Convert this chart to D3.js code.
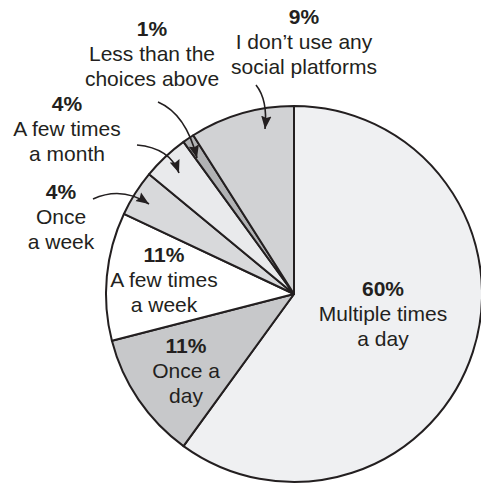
<!DOCTYPE html>
<html>
<head>
<meta charset="utf-8">
<script src="https://cdn.jsdelivr.net/npm/d3@7"></script>
<style>
  body { margin: 0; background: #fff; }
  text { font-family: "Liberation Sans", Arial, sans-serif; fill: #231f20; }
</style>
</head>
<body>
<div id="chart"></div>
<script>
// data
const categories = [
  "Multiple times a day",
  "Once a day",
  "A few times a week",
  "Once a week",
  "A few times a month",
  "Less than the choices above",
  "I don\u2019t use any social platforms"
];
const values = [60, 11, 11, 4, 4, 1, 9];
const fills = ["#eff0f2", "#c7c8ca", "#ffffff", "#d8d9db", "#e9eaec", "#b1b2b4", "#d1d2d4"];
const labelLines = [
  ["Multiple times", "a day"],
  ["Once a", "day"],
  ["A few times", "a week"],
  ["Once", "a week"],
  ["A few times", "a month"],
  ["Less than the", "choices above"],
  ["I don\u2019t use any", "social platforms"]
];

// layout
const width = 481, height = 486;
const cx = 294, cy = 294, radius = 188;
const lineGap = 25;
// where each label block sits (x centre, baseline of first line)
const labelPos = [
  [383, 296], [186, 353], [164, 262], [61, 199], [67, 111], [152, 36], [304, 24]
];
// callout curves: start, control, end
const callouts = [
  null, null, null,
  [[93, 199], [122, 186], [149, 204]],
  [[137, 145], [170, 148], [179, 173]],
  [[158, 102], [186, 114], [197, 158]],
  [[256, 85], [268, 100], [265, 129]]
];

const svg = d3.select("#chart").append("svg")
  .attr("width", width)
  .attr("height", height);

svg.append("defs").append("marker")
  .attr("id", "arrow")
  .attr("viewBox", "0 0 10 10")
  .attr("refX", 10)
  .attr("refY", 5)
  .attr("markerWidth", 13)
  .attr("markerHeight", 13)
  .attr("markerUnits", "userSpaceOnUse")
  .attr("orient", "auto")
  .append("path")
  .attr("d", "M0,1 L10,5 L0,9 L1.5,5 Z")
  .attr("fill", "#231f20");

const pie = d3.pie().sort(null).value(d => d)
  .startAngle(0).endAngle(2 * Math.PI);
const arcs = pie(values);
const arc = d3.arc().innerRadius(0).outerRadius(radius);

const g = svg.append("g").attr("transform", `translate(${cx},${cy})`);

g.selectAll("path.slice")
  .data(arcs)
  .join("path")
  .attr("class", "slice")
  .attr("d", arc)
  .attr("fill", (d, i) => fills[i])
  .attr("stroke", "#231f20")
  .attr("stroke-width", 2)
  .attr("stroke-linejoin", "round");

// labels
const lab = svg.selectAll("g.label")
  .data(categories)
  .join("g")
  .attr("class", "label")
  .attr("transform", (d, i) => `translate(${labelPos[i][0]},${labelPos[i][1]})`);

lab.append("text")
  .attr("text-anchor", "middle")
  .attr("font-size", 21)
  .attr("font-weight", "bold")
  .text((d, i) => values[i] + "%");

lab.each(function(d, i) {
  d3.select(this).selectAll("text.line")
    .data(labelLines[i])
    .join("text")
    .attr("class", "line")
    .attr("text-anchor", "middle")
    .attr("font-size", 21)
    .attr("y", (t, j) => (j + 1) * lineGap)
    .text(t => t);
});

// callout arrows
svg.selectAll("path.callout")
  .data(callouts.filter(c => c))
  .join("path")
  .attr("class", "callout")
  .attr("d", c => `M${c[0][0]},${c[0][1]} Q${c[1][0]},${c[1][1]} ${c[2][0]},${c[2][1]}`)
  .attr("fill", "none")
  .attr("stroke", "#231f20")
  .attr("stroke-width", 1.6)
  .attr("marker-end", "url(#arrow)");
</script>
</body>
</html>
